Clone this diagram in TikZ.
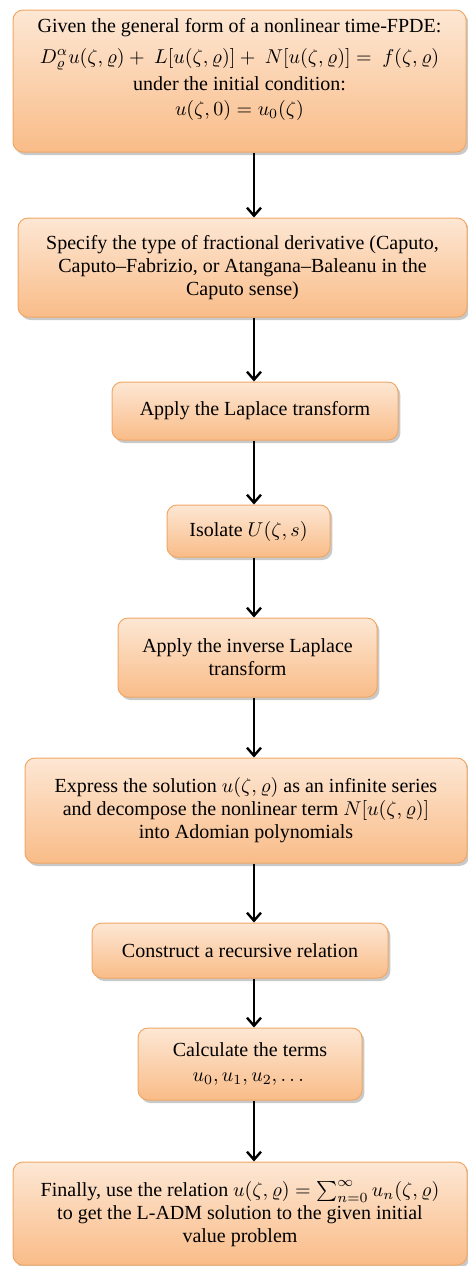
\documentclass[tikz,border=0pt]{standalone}
\usepackage{amsmath}
\usepackage{fontspec}
\setmainfont{Liberation Serif}
\usetikzlibrary{arrows.meta,positioning,shadows}
\definecolor{boxtop}{HTML}{FDE7D4}
\definecolor{boxbot}{HTML}{F9BC88}
\definecolor{boxline}{HTML}{F0A866}

\begin{document}
\begin{tikzpicture}[
  x=0.5pt, y=-0.5pt,
  every node/.style={font=\fontsize{10}{11.5}\selectfont},
  process/.style={rectangle, rounded corners=5pt, draw=boxline, line width=0.5pt,
    top color=boxtop, bottom color=boxbot, align=center, inner sep=2pt,
    drop shadow={shadow xshift=1.2pt, shadow yshift=-1.5pt, opacity=0.3, fill=black!70}},
  arr/.style={-{Straight Barb[length=4pt,width=7pt]}, line width=1.2pt}
]
  \useasboundingbox (0,0) rectangle (467,1266);
  \coordinate (ax) at (254,0);

  \node[process, minimum width=226.5pt, minimum height=71pt] (given) at (239.5,81)
    {Given the general form of a nonlinear time-FPDE:\\[4pt]
     $D_{\varrho}^{\alpha}u(\zeta,\varrho)+\ L[u(\zeta,\varrho)]+\ N[u(\zeta,\varrho)]=\ f(\zeta,\varrho)$\\[2pt]
     under the initial condition:\\[1pt]
     $u(\zeta,0)=u_0(\zeta)$\\[3pt]};
  \node[process, minimum width=224.5pt, minimum height=49.5pt] (specify) at (242.5,267.5)
    {Specify the type of fractional derivative (Caputo,\\
     Caputo--Fabrizio, or Atangana--Baleanu in the\\
     Caputo sense)};
  \node[process, minimum width=143pt, minimum height=29pt] (laplace) at (255,411)
    {Apply the Laplace transform};
  \node[process, minimum width=81.5pt, minimum height=26pt] (isolate) at (248.5,531)
    {Isolate $U(\zeta,s)$};
  \node[process, minimum width=129.5pt, minimum height=39.5pt] (inverse) at (247.5,657.5)
    {Apply the inverse Laplace\\transform};
  \node[process, minimum width=221pt, minimum height=52.5pt] (series) at (246,810.5)
    {Express the solution $u(\zeta,\varrho)$ as an infinite series\\
     and decompose the nonlinear term $N[u(\zeta,\varrho)]$\\
     into Adomian polynomials};
  \node[process, minimum width=148pt, minimum height=27.5pt] (recur) at (240,950.5)
    {Construct a recursive relation};
  \node[process, minimum width=112pt, minimum height=36pt] (terms) at (250,1064)
    {Calculate the terms\\[1pt]$u_0, u_1, u_2, \dots$};
  \node[process, minimum width=227pt, minimum height=51.5pt] (final) at (240,1213.5)
    {Finally, use the relation $u(\zeta,\varrho)=\sum_{n=0}^{\infty}u_n(\zeta,\varrho)$\\
     to get the L-ADM solution to the given initial\\
     value problem};

  \draw[arr] (given.south -| ax) -- (specify.north -| ax);
  \draw[arr] (specify.south -| ax) -- (laplace.north -| ax);
  \draw[arr] (laplace.south -| ax) -- (isolate.north -| ax);
  \draw[arr] (isolate.south -| ax) -- (inverse.north -| ax);
  \draw[arr] (inverse.south -| ax) -- (series.north -| ax);
  \draw[arr] (series.south -| ax) -- (recur.north -| ax);
  \draw[arr] (recur.south -| ax) -- (terms.north -| ax);
  \draw[arr] (terms.south -| ax) -- (final.north -| ax);
\end{tikzpicture}
\end{document}
